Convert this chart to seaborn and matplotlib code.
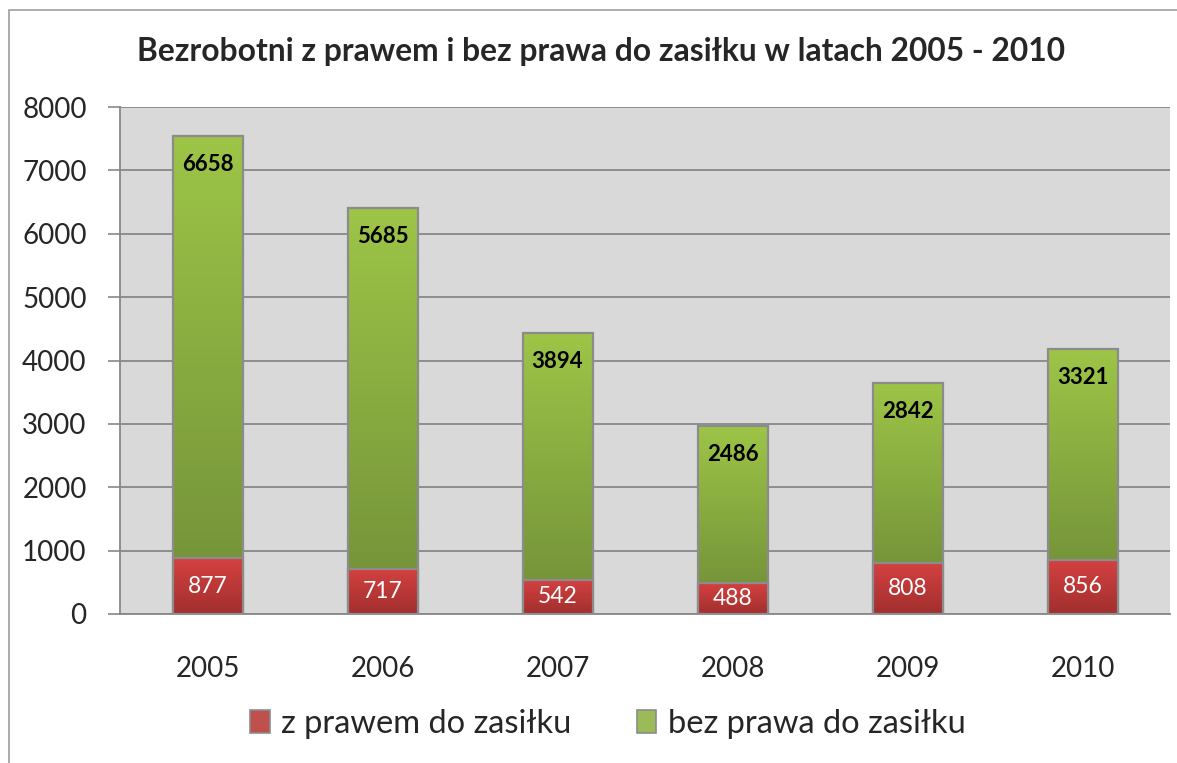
import numpy as np
import pandas as pd
import matplotlib
matplotlib.use("Agg")
import matplotlib.pyplot as plt
from matplotlib.patches import Rectangle, Patch
from matplotlib.colors import LinearSegmentedColormap
import seaborn as sns

years = ["2005", "2006", "2007", "2008", "2009", "2010"]
z_prawem = [877, 717, 542, 488, 808, 856]
bez_prawa = [6658, 5685, 3894, 2486, 2842, 3321]
series_names = ["z prawem do zasiłku", "bez prawa do zasiłku"]
title = "Bezrobotni z prawem i bez prawa do zasiłku w latach 2005 - 2010"
y_ticks = [0, 1000, 2000, 3000, 4000, 5000, 6000, 7000, 8000]

sns.set_theme(style="white")
plt.rcParams["font.family"] = ["Lato", "DejaVu Sans"]

df = pd.DataFrame({"year": years, "red": z_prawem, "green": bez_prawa})
df["total"] = df["red"] + df["green"]

fig = plt.figure(figsize=(11.77, 7.63), dpi=100)
ax = fig.add_axes([120 / 1177, 1 - 614 / 763, 1050 / 1177, (614 - 107) / 763])
ax.set_facecolor("#D9D9D9")

edge = "#8C8C8C"
sns.barplot(data=df, x="year", y="total", color="#9BBB59", width=0.4,
            edgecolor=edge, linewidth=1.6, ax=ax, zorder=3, saturation=1)
sns.barplot(data=df, x="year", y="red", color="#C0504D", width=0.4,
            edgecolor=edge, linewidth=1.6, ax=ax, zorder=4, saturation=1)

green_cmap = LinearSegmentedColormap.from_list("g", ["#76953A", "#9DC547"])
red_cmap = LinearSegmentedColormap.from_list("r", ["#A12F2E", "#D54141"])
grad = np.linspace(0, 1, 256).reshape(-1, 1)

n = len(years)
patches = ax.patches
for i, p in enumerate(patches[:n]):
    x0 = p.get_x(); w = p.get_width()
    im = ax.imshow(grad, extent=[x0, x0 + w, z_prawem[i], p.get_height()],
                   origin="lower", aspect="auto", cmap=green_cmap, zorder=3.1)
    im.set_clip_path(p)
    p.set_facecolor("none")
    p.set_zorder(3.2)
for i, p in enumerate(patches[n:2 * n]):
    x0 = p.get_x(); w = p.get_width()
    im = ax.imshow(grad, extent=[x0, x0 + w, 0, p.get_height()],
                   origin="lower", aspect="auto", cmap=red_cmap, zorder=4.1)
    im.set_clip_path(p)
    p.set_facecolor("none")
    p.set_zorder(4.2)

for i in range(n):
    ax.text(i, df["total"][i] - 450, f"{bez_prawa[i]}", ha="center", va="center",
            fontsize=16, fontweight="bold", color="black", zorder=6)
    ax.text(i, z_prawem[i] / 2, f"{z_prawem[i]}", ha="center", va="center",
            fontsize=16.5, color="white", zorder=6)

ax.set_xlim(-0.5, 5.5)
ax.set_ylim(0, 8000)
ax.set_yticks(y_ticks)
ax.set_yticklabels([str(v) for v in y_ticks], fontsize=20)
ax.yaxis.grid(True, color="#888888", linewidth=1.3, zorder=1)
ax.set_axisbelow(True)
ax.set_xlabel("")
ax.set_ylabel("")
ax.set_xticks(range(n))
ax.set_xticklabels(years, fontsize=20)
ax.set_xticks(np.arange(-0.5, 6, 1), minor=True)
ax.tick_params(axis="x", which="major", length=0, pad=30)
ax.tick_params(axis="x", which="minor", length=8, width=1.2, color="#888888", direction="out")
ax.tick_params(axis="y", which="major", length=9, width=1.2, color="#888888", direction="out", pad=15, left=True)
for s in ["top", "right"]:
    ax.spines[s].set_visible(False)
for s in ["left", "bottom"]:
    ax.spines[s].set_color("#888888")
    ax.spines[s].set_linewidth(1.3)

fig.text(601 / 1177, 1 - 52 / 763, title, ha="center", va="center", fontsize=22.9, fontweight="bold")

handles = [Patch(facecolor="#C0504D", edgecolor=edge, linewidth=1.2),
           Patch(facecolor="#9BBB59", edgecolor=edge, linewidth=1.2)]
fig.legend(handles, series_names, loc="center", bbox_to_anchor=(608 / 1177, 1 - 724 / 763),
           ncol=2, frameon=False, fontsize=23.5, handlelength=0.6, handleheight=0.7,
           handletextpad=0.35, columnspacing=2.0)

fig.patches.append(Rectangle((9 / 1177, -0.1), 1.2, 1 - 10 / 763 + 0.1, transform=fig.transFigure,
                             fill=False, edgecolor="#A6A6A6", linewidth=1.3, zorder=0))

fig.savefig("out.png", dpi=100)
